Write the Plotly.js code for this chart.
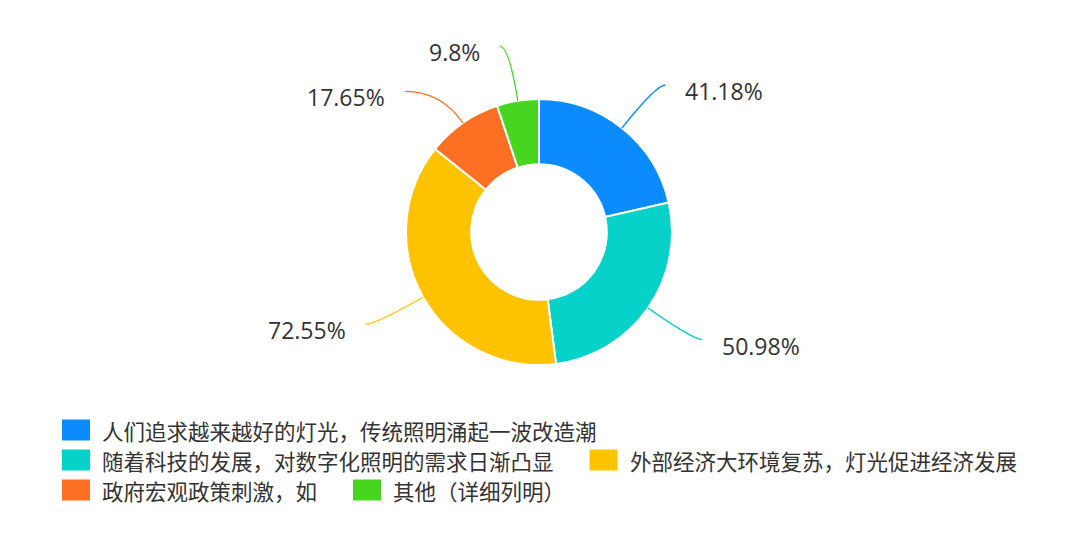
<!DOCTYPE html>
<html>
<head>
<meta charset="utf-8">
<script src="https://cdn.plot.ly/plotly-3.0.1.min.js"></script>
<style>
  html, body { margin: 0; padding: 0; background: #fff; }
  #chart { width: 1080px; height: 539px; }
</style>
</head>
<body>
<div id="chart"></div>
<script>
// ---- data ----
const OPTIONS = [
    '人们追求越来越好的灯光，传统照明涌起一波改造潮',
    '随着科技的发展，对数字化照明的需求日渐凸显',
    '外部经济大环境复苏，灯光促进经济发展',
    '政府宏观政策刺激，如',
    '其他（详细列明）'
];
const PERCENTS = [41.18, 50.98, 72.55, 17.65, 9.8];
const COLORS = ['#0c8cfc', '#06d2c9', '#fec300', '#fd7024', '#47d61f'];

// ---- geometry (pixels) ----
const W = 1080, H = 539;
const CX = 539, CY = 232, R = 133;
const LINE_LEN1 = 55, LINE_LEN2 = 9, LABEL_GAP = 45;
const TEXT_FONT = 'Noto Sans CJK SC';
const NUM_FONT = 'Open Sans';

const px = (x) => x / W;
const py = (y) => 1 - y / H;

// slice mid angles, clockwise from 12 o'clock
const total = PERCENTS.reduce((a, b) => a + b, 0);
let cum = 0;
const labels = PERCENTS.map((v, i) => {
    const theta = 2 * Math.PI * (cum + v / 2) / total;
    cum += v;
    const side = Math.sin(theta) >= 0 ? 1 : -1;
    const R2 = R + LINE_LEN1;
    return { i, theta, side, y: CY - R2 * Math.cos(theta) };
});

// push overlapping labels down on each side
[1, -1].forEach(side => {
    const list = labels.filter(l => l.side === side).sort((a, b) => a.y - b.y);
    for (let k = 1; k < list.length; k++) {
        if (list[k].y - list[k - 1].y < LABEL_GAP) list[k].y = list[k - 1].y + LABEL_GAP;
    }
});

const shapes = [], annotations = [];
labels.forEach(l => {
    const s = Math.sin(l.theta), c = Math.cos(l.theta);
    const R2 = R + LINE_LEN1;
    const A = { x: CX + R * s, y: CY - R * c };
    let t = Math.abs(c) > 0.1 ? (CY - l.y) / c : R2;
    t = Math.max(t, R + 5);
    const B = { x: CX + t * s, y: l.y };
    const dy = l.y - CY;
    const C = { x: CX + l.side * (Math.sqrt(Math.max(0, R2 * R2 - dy * dy)) + LINE_LEN2), y: l.y };
    shapes.push({
        type: 'path', xref: 'paper', yref: 'paper',
        path: 'M ' + px(A.x) + ',' + py(A.y) + ' Q ' + px(B.x) + ',' + py(B.y) + ' ' + px(C.x) + ',' + py(C.y),
        line: { color: COLORS[l.i], width: 1.3 }
    });
    annotations.push({
        xref: 'paper', yref: 'paper',
        x: px(C.x + l.side * 18), y: py(C.y + 6),
        xanchor: l.side > 0 ? 'left' : 'right', yanchor: 'middle',
        text: PERCENTS[l.i] + '%', showarrow: false,
        font: { family: NUM_FONT, size: 23, color: '#333333' }
    });
});

// ---- legend (flow layout like the original) ----
const LEG_X0 = 62, LEG_Y0 = 430, LEG_ROW = 30, SW_W = 28, SW_H = 21, SW_GAP = 10, ITEM_GAP = 38, LEG_MAX = 1060;
const LEG_SIZE = 21.5;
const ctx = document.createElement('canvas').getContext('2d');
ctx.font = LEG_SIZE + 'px "' + TEXT_FONT + '"';
let lx = LEG_X0, ly = LEG_Y0;
OPTIONS.forEach((name, i) => {
    const tw = ctx.measureText(name).width;
    const w = SW_W + SW_GAP + tw;
    if (lx > LEG_X0 && lx + w > LEG_MAX) { lx = LEG_X0; ly += LEG_ROW; }
    shapes.push({
        type: 'rect', xref: 'paper', yref: 'paper',
        x0: px(lx), x1: px(lx + SW_W), y0: py(ly + SW_H / 2), y1: py(ly - SW_H / 2),
        fillcolor: COLORS[i], line: { width: 0 }
    });
    annotations.push({
        xref: 'paper', yref: 'paper',
        x: px(lx + SW_W + SW_GAP), y: py(ly),
        xanchor: 'left', yanchor: 'middle', showarrow: false,
        text: name,
        font: { family: TEXT_FONT, size: LEG_SIZE, color: '#333333' }
    });
    lx += w + ITEM_GAP;
});

const trace = {
    type: 'pie',
    labels: OPTIONS,
    values: PERCENTS,
    sort: false,
    direction: 'clockwise',
    rotation: 0,
    hole: 0.51,
    marker: { colors: COLORS, line: { color: '#ffffff', width: 2 } },
    textinfo: 'none',
    hoverinfo: 'label+value',
    showlegend: false,
    domain: { x: [px(CX - R), px(CX + R)], y: [py(CY + R), py(CY - R)] }
};

const layout = {
    width: W, height: H,
    margin: { t: 0, b: 0, l: 0, r: 0 },
    paper_bgcolor: '#ffffff',
    showlegend: false,
    shapes, annotations
};

Plotly.newPlot('chart', [trace], layout, { displayModeBar: false, staticPlot: true });
</script>
</body>
</html>
